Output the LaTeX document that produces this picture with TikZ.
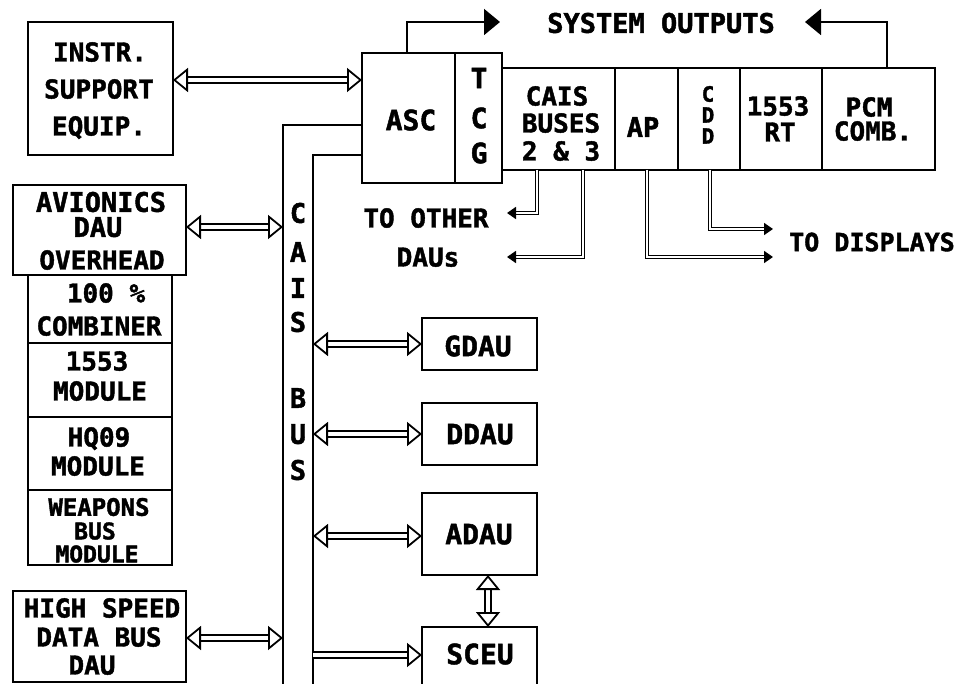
\documentclass[tikz,border=0pt]{standalone}
\usepackage{fontspec}
\newfontfamily\dmono{DejaVu Sans Mono}[BoldFont={DejaVu Sans Mono Bold}, BoldFeatures={FakeBold=1.6}]
\usetikzlibrary{arrows.meta}
\newcommand\bx[5]{\node[box, minimum width={(#4-#2)*1pt}, minimum height={(#5-#3)*1pt}] (#1) at ({(#2+#4)/2},{(#3+#5)/2}) {};}
\newcommand\tx[5][26]{\node[fs=#1] (#2) at (#3,#4) {#5};}
\tikzset{
  box/.style={draw, line width=2pt, inner sep=0pt, outer sep=0pt},
  fs/.style={inner sep=0pt, font=\fontsize{#1}{#1}\selectfont\dmono\bfseries, text height={0.73*#1pt}, text depth=0pt},
  wide/.style={line width=1.8pt, double=white, double distance=3.5pt, {Triangle[open,length=15pt,width=24pt]}-{Triangle[open,length=15pt,width=24pt]}},
  wider/.style={line width=1.8pt, double=white, double distance=3.5pt, -{Triangle[open,length=15pt,width=24pt]}},
  thin2/.style={line width=1.7pt, double=white, double distance=1.4pt, -{Triangle[length=9pt,width=12pt]}},
  outline/.style={line width=1.8pt, -{Triangle[length=16pt,width=26pt]}},
  busline/.style={line width=2pt}
}
\begin{document}
\begin{tikzpicture}[x=1pt,y=-1pt]
\useasboundingbox (0,0) rectangle (961,684);
% boxes
\bx{instr}{28}{22}{173}{155}
\bx{asc}{362}{53}{455}{183}
\bx{tcg}{455}{53}{502}{183}
\bx{caisb}{502}{68}{615}{170}
\bx{ap}{615}{68}{678}{170}
\bx{cdd}{678}{68}{740}{170}
\bx{rt}{740}{68}{822}{170}
\bx{pcm}{822}{68}{935}{170}
\bx{avion}{13}{185}{186}{275}
\bx{comb}{28}{275}{172}{343}
\bx{mod1553}{28}{343}{172}{417}
\bx{hq}{28}{417}{172}{490}
\bx{weap}{28}{490}{172}{565}
\bx{hsdb}{13}{591}{186}{682}
\bx{gdau}{422}{318}{537}{370}
\bx{ddau}{422}{403}{537}{465}
\bx{adau}{422}{493}{537}{575}
\bx{sceu}{422}{627}{537}{700}
% texts
\tx{t1}{100}{52}{INSTR.}
\tx{t2}{99}{89}{SUPPORT}
\tx{t3}{99}{126}{EQUIP.}
\tx[28]{t4}{411}{120}{ASC}
\tx[28]{t5}{479}{78}{T}
\tx[28]{t6}{479}{118}{C}
\tx[28]{t7}{479}{153}{G}
\tx{t8}{557}{96}{CAIS}
\tx{t9}{561}{123}{BUSES}
\tx{t10}{561}{151}{2 \& 3}
\tx[27]{t11}{643}{127}{AP}
\tx[21]{t12}{708}{94}{C}
\tx[21]{t13}{708}{115}{D}
\tx[21]{t14}{708}{136}{D}
\tx{t15}{778}{106}{1553}
\tx{t16}{780}{132}{RT}
\tx{t17}{869}{107}{PCM}
\tx{t18}{873}{131}{COMB.}
\tx[27]{t19}{661}{23}{SYSTEM OUTPUTS}
\tx[27]{t20}{101}{202}{AVIONICS}
\tx[27]{t21}{98}{227}{DAU}
\tx{t22}{102}{260}{OVERHEAD}
\tx{t23}{106}{293}{100 \%}
\tx{t24}{99}{326}{COMBINER}
\tx{t25}{97}{361}{1553}
\tx{t26}{100}{391}{MODULE}
\tx{t27}{99}{437}{HQ09}
\tx{t28}{98}{466}{MODULE}
\tx[24]{t29}{99}{507}{WEAPONS}
\tx[23]{t30}{95}{531}{BUS}
\tx[23]{t31}{97}{554}{MODULE}
\tx{t32}{102}{608}{HIGH SPEED}
\tx{t33}{99}{637}{DATA BUS}
\tx{t34}{92}{665}{DAU}
\tx[28]{t35}{478}{346}{GDAU}
\tx[28]{t36}{480}{434}{DDAU}
\tx[28]{t37}{479}{534}{ADAU}
\tx[28]{t38}{480}{654}{SCEU}
\tx{t39}{426}{218}{TO OTHER}
\tx{t40}{428}{257}{DAUs}
\tx[25]{t41}{872}{242}{TO DISPLAYS}
% CAIS bus letters
\tx[27]{b1}{298}{213}{C}
\tx[27]{b2}{298}{252}{A}
\tx[27]{b3}{298}{288}{I}
\tx[27]{b4}{298}{322}{S}
\tx[27]{b5}{298}{398}{B}
\tx[27]{b6}{298}{434}{U}
\tx[27]{b7}{298}{470}{S}
% bus lines
\coordinate (busL) at (283,690);
\coordinate (busR) at (313,690);
\draw[busline] (asc.west |- 0,125) -| (busL);
\draw[busline] (asc.west |- 0,155) -| (busR);
% system outputs
\coordinate (soL) at (500,22);
\coordinate (soR) at (805,22);
\draw[outline] (asc.north -| 407,0) |- (soL);
\draw[outline] (pcm.north -| 887,0) |- (soR);
% wide arrows
\draw[wide] (instr.east |- 0,80) -- (asc.west |- 0,80);
\draw[wide] (avion.east |- 0,227) -- (busL |- 0,227);
\draw[wide] (hsdb.east |- 0,638) -- (busL |- 0,638);
\draw[wide] (busR |- gdau.west) -- (gdau.west);
\draw[wide] (busR |- ddau.west) -- (ddau.west);
\draw[wide] (busR |- 0,536) -- (adau.west |- 0,536);
\draw[wider] (busR |- 0,655) -- (sceu.west |- 0,655);
\draw[wide] (adau.south -| 488,0) -- (sceu.north -| 488,0);
% small connectors
\coordinate (od1) at (507,213);
\coordinate (od2) at (507,257);
\coordinate (ds1) at (773,229);
\coordinate (ds2) at (773,257);
\draw[thin2] (caisb.south -| 537,0) |- (od1);
\draw[thin2] (caisb.south -| 583,0) |- (od2);
\draw[thin2] (cdd.south -| 710,0) |- (ds1);
\draw[thin2] (ap.south -| 647,0) |- (ds2);
\end{tikzpicture}
\end{document}
